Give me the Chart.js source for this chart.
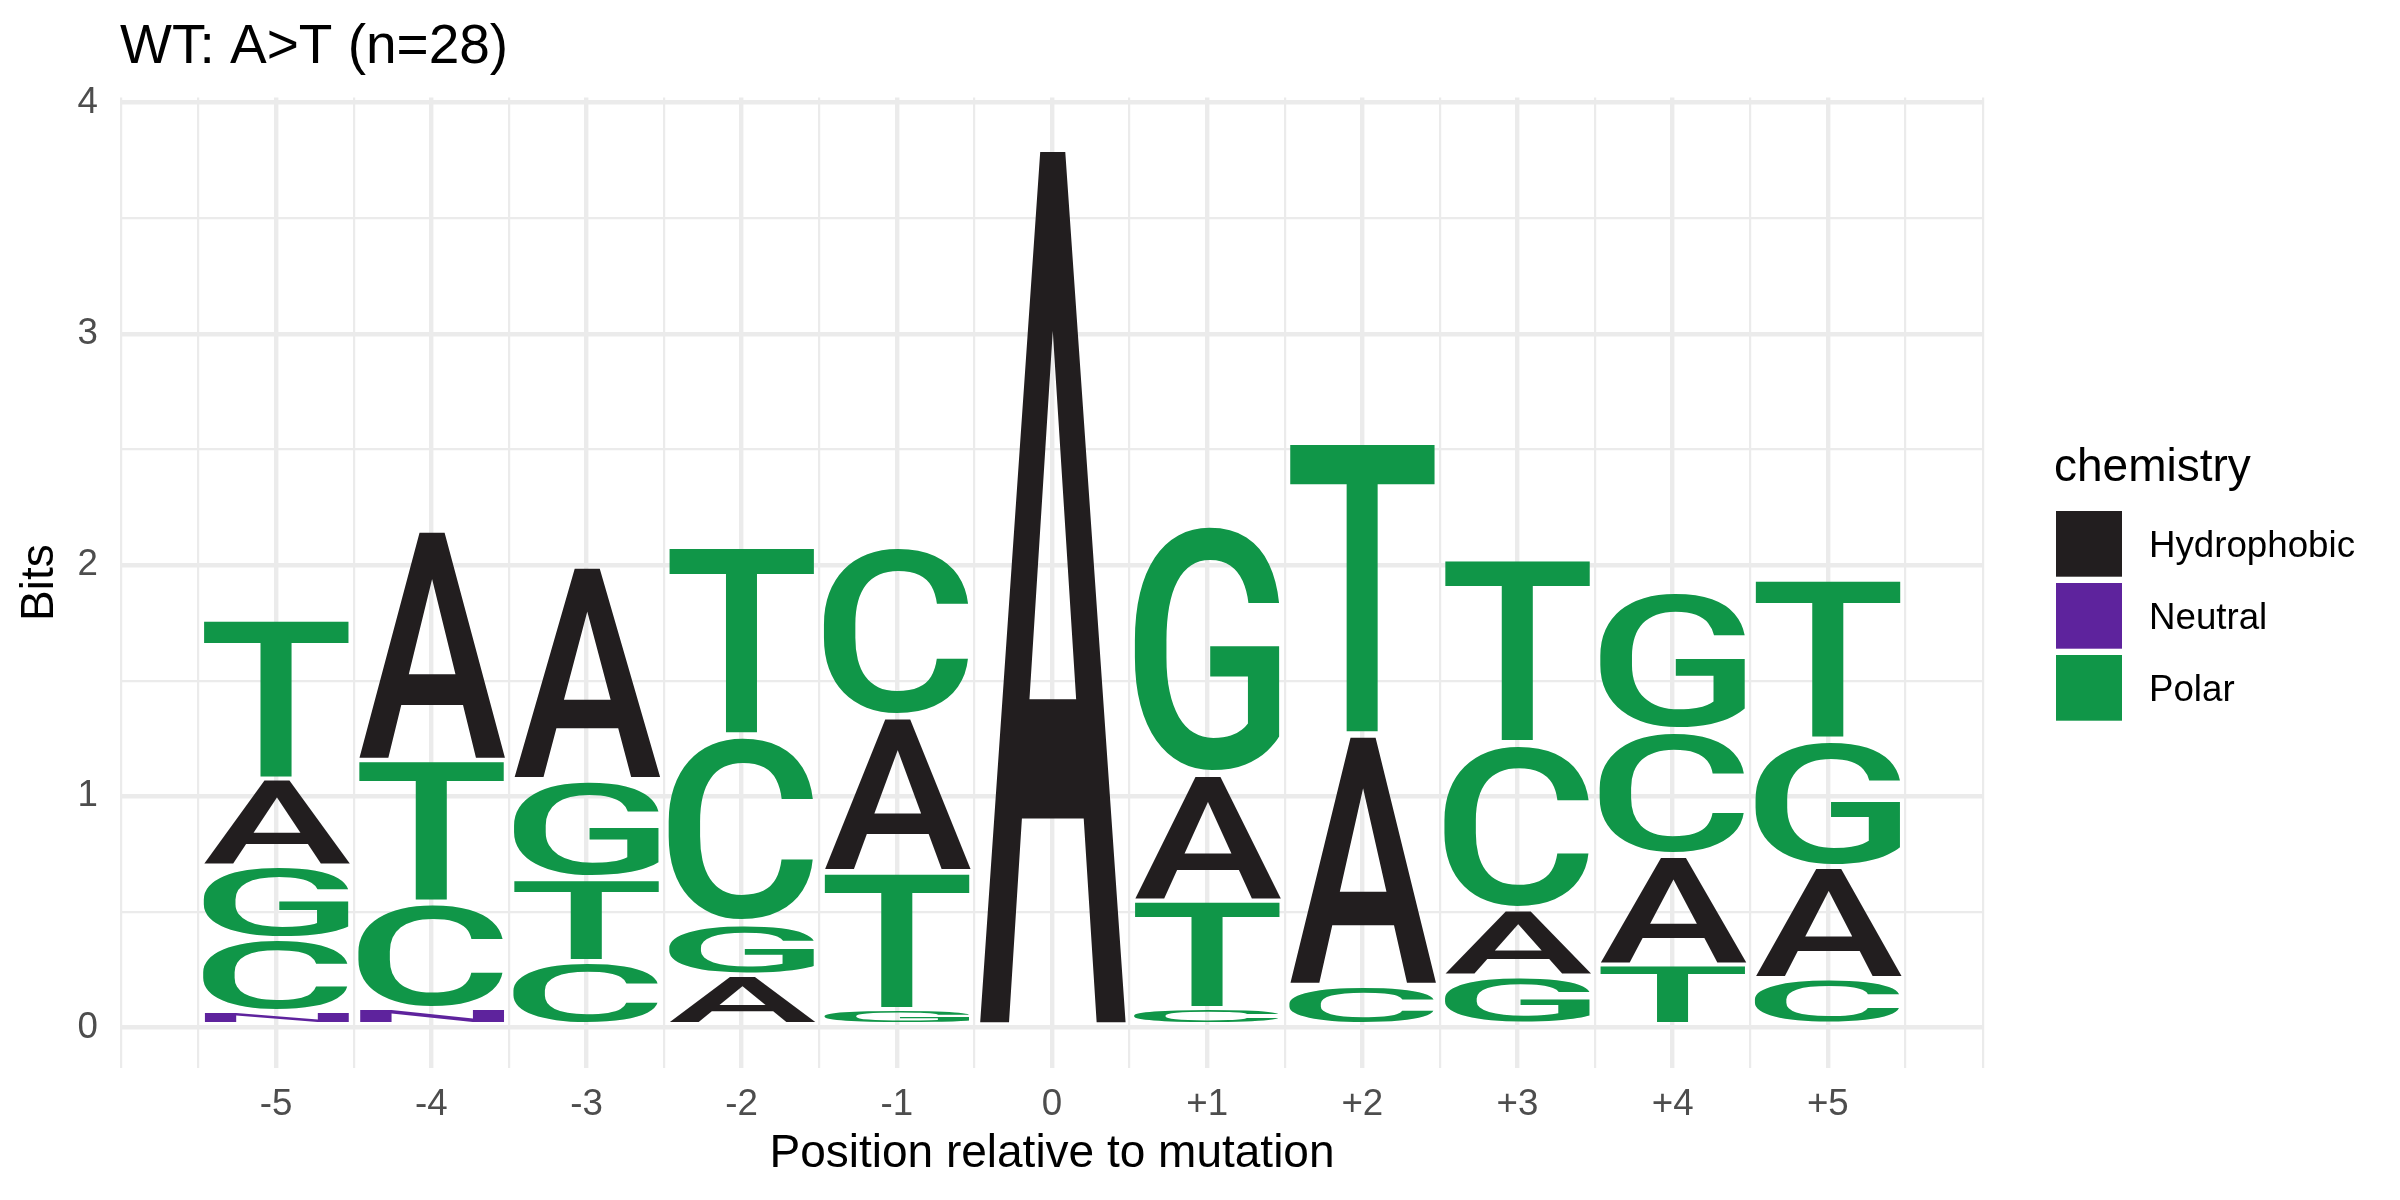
<!DOCTYPE html>
<html>
<head>
<meta charset="utf-8">
<title>WT: A&gt;T (n=28)</title>
<script src="https://cdn.jsdelivr.net/npm/chart.js@4.4.1/dist/chart.umd.min.js"></script>
<style>
    html, body { margin: 0; padding: 0; background: #ffffff; }
    #wrap { width: 2400px; height: 1200px; position: relative; }
</style>
</head>
<body>
<div id="wrap"><canvas id="logo" width="2400" height="1200"></canvas></div>
<script>
/**
 * Sequence logo (bits) drawn on top of a Chart.js floating bar chart.
 * Each bar is one letter box; the plugin stretches the glyph into it.
 */

// Positions relative to the mutation (x tick labels)
const positions = ['-5', '-4', '-3', '-2', '-1', '0', '+1', '+2', '+3', '+4', '+5'];

// Letter heights in bits, one value per position
const letters = ['A', 'C', 'G', 'N', 'T'];
const bitsA = [0.379, 1.000, 0.927, 0.223, 0.671, 3.832, 0.546, 1.087, 0.289, 0.472, 0.485];
const bitsC = [0.316, 0.462, 0.285, 0.818, 0.746, 0, 0.078, 0.181, 0.724, 0.540, 0.208];
const bitsG = [0.316, 0, 0.428, 0.223, 0.075, 0, 1.092, 0, 0.217, 0.607, 0.554];
const bitsN = [0.063, 0.077, 0, 0, 0, 0, 0, 0, 0, 0, 0];
const bitsT = [0.694, 0.615, 0.357, 0.818, 0.596, 0, 0.468, 1.268, 0.796, 0.270, 0.693];

// Colour scheme (chemistry)
const groups = ['Hydrophobic', 'Neutral', 'Polar'];
const groupColors = ['#221E1F', '#5E239D', '#109648'];
const letterGroup = { A: 'Hydrophobic', C: 'Polar', G: 'Polar', N: 'Neutral', T: 'Polar' };

// Axis ticks
const yTicks = [0, 1, 2, 3, 4];
const yRange = [-0.174, 4.022];
const xRange = [0, 12];

const seqLogo = {

    font: '"Liberation Sans", Arial, Helvetica, sans-serif',
    letterFont: '500 400px Roboto, "Liberation Sans", sans-serif',
    colWidth: 0.95,

    init: function() {
        Chart.defaults.font.family = this.font;
        const stacks = this.buildStacks();
        this.chart = new Chart(document.getElementById('logo'), {
            type: 'bar',
            data: { datasets: this.buildDatasets(stacks) },
            options: this.buildOptions(),
            plugins: [this.logoPlugin()]
        });
    },

    // Sort each column smallest at the bottom, then stack it
    buildStacks: function() {
        const bits = { A: bitsA, C: bitsC, G: bitsG, N: bitsN, T: bitsT };
        return positions.map((p, i) => {
            const items = letters
                .filter(l => bits[l][i] > 0)
                .map(l => ({ letter: l, h: bits[l][i] }));
            items.sort((a, b) => a.h - b.h);
            let base = 0;
            return items.map(it => {
                const box = { letter: it.letter, y0: base, y1: base + it.h };
                base += it.h;
                return box;
            });
        });
    },

    // One dataset per stack level (bottom letter, second letter, ...)
    buildDatasets: function(stacks) {
        const depth = Math.max(...stacks.map(s => s.length));
        const datasets = [];
        for (let r = 0; r < depth; r++) {
            const data = [];
            stacks.forEach((stack, i) => {
                if (stack[r]) {
                    data.push({ x: i + 1, y: [stack[r].y0, stack[r].y1], letter: stack[r].letter });
                }
            });
            datasets.push({
                label: 'level ' + (r + 1),
                data: data,
                backgroundColor: 'rgba(0,0,0,0)',
                borderWidth: 0,
                grouped: false
            });
        }
        return datasets;
    },

    buildOptions: function() {
        const gridColor = '#EBEBEB';
        const major = 4.4;
        const minor = 2.2;
        return {
            responsive: false,
            devicePixelRatio: 1,
            animation: false,
            events: [],
            layout: { padding: { left: 0, top: 97.6, right: 417, bottom: 0 } },
            plugins: {
                legend: { display: false },
                title: { display: false },
                tooltip: { enabled: false }
            },
            scales: {
                x: {
                    type: 'linear',
                    min: xRange[0],
                    max: xRange[1],
                    offset: false,
                    afterBuildTicks: (scale) => {
                        const ticks = [];
                        for (let v = xRange[0]; v <= xRange[1]; v += 0.5) ticks.push({ value: v });
                        scale.ticks = ticks;
                    },
                    afterFit: (scale) => { scale.height = 132.3; },
                    grid: {
                        offset: false,
                        drawTicks: false,
                        color: gridColor,
                        lineWidth: (c) => {
                            const v = c.tick ? c.tick.value : 0;
                            return Number.isInteger(v) && v >= 1 && v <= positions.length ? major : minor;
                        }
                    },
                    border: { display: false },
                    ticks: {
                        autoSkip: false,
                        maxRotation: 0,
                        padding: 15,
                        color: '#4D4D4D',
                        font: { size: 36.7 },
                        callback: (v) => (Number.isInteger(v) && v >= 1 && v <= positions.length) ? positions[v - 1] : ''
                    },
                    title: {
                        display: true,
                        text: 'Position relative to mutation',
                        color: '#000000',
                        font: { size: 46, lineHeight: 1.2 },
                        padding: { top: 0, bottom: 18.4 }
                    }
                },
                y: {
                    type: 'linear',
                    min: yRange[0],
                    max: yRange[1],
                    afterBuildTicks: (scale) => {
                        const ticks = [];
                        yTicks.forEach((v, i) => {
                            ticks.push({ value: v });
                            if (i < yTicks.length - 1) ticks.push({ value: (v + yTicks[i + 1]) / 2 });
                        });
                        scale.ticks = ticks;
                    },
                    afterFit: (scale) => { scale.width = 121; },
                    grid: {
                        drawTicks: false,
                        color: gridColor,
                        lineWidth: (c) => (c.tick && yTicks.includes(c.tick.value)) ? major : minor
                    },
                    border: { display: false },
                    ticks: {
                        autoSkip: false,
                        padding: 23,
                        color: '#4D4D4D',
                        font: { size: 36.7 },
                        callback: (v) => yTicks.includes(v) ? String(v) : ''
                    },
                    title: {
                        display: true,
                        text: 'Bits',
                        color: '#000000',
                        font: { size: 46, lineHeight: 1.2 },
                        padding: { top: 13.2, bottom: 0 }
                    }
                }
            }
        };
    },

    // Stretch a glyph so its ink fills the given box
    drawLetter: function(ctx, ch, color, left, top, width, height) {
        if (width <= 0 || height <= 0) return;
        ctx.save();
        ctx.font = this.letterFont;
        ctx.textAlign = 'left';
        ctx.textBaseline = 'alphabetic';
        const m = ctx.measureText(ch);
        const gw = m.actualBoundingBoxLeft + m.actualBoundingBoxRight;
        const gh = m.actualBoundingBoxAscent + m.actualBoundingBoxDescent;
        ctx.translate(left, top);
        ctx.scale(width / gw, height / gh);
        ctx.fillStyle = color;
        ctx.fillText(ch, m.actualBoundingBoxLeft, m.actualBoundingBoxAscent);
        ctx.restore();
    },

    logoPlugin: function() {
        const self = this;
        return {
            id: 'seqLogo',
            afterDatasetsDraw: function(chart) {
                const ctx = chart.ctx;
                const xs = chart.scales.x;
                // letter column width: 0.95 of one position step
                const width = (xs.getPixelForValue(1) - xs.getPixelForValue(0)) * self.colWidth;
                chart.data.datasets.forEach((ds, di) => {
                    const meta = chart.getDatasetMeta(di);
                    meta.data.forEach((bar, j) => {
                        const p = bar.getProps(['x', 'y', 'base'], true);
                        const item = ds.data[j];
                        const color = groupColors[groups.indexOf(letterGroup[item.letter])];
                        // small white gap between stacked letters
                        const top = Math.min(p.y, p.base) + 0.8;
                        const bottom = Math.max(p.y, p.base) - 3;
                        self.drawLetter(ctx, item.letter, color, p.x - width / 2, top, width, bottom - top);
                    });
                });
            },
            afterDraw: function(chart) {
                const ctx = chart.ctx;
                const area = chart.chartArea;
                ctx.save();
                ctx.textAlign = 'left';
                ctx.textBaseline = 'alphabetic';

                // plot title
                ctx.fillStyle = '#000000';
                ctx.font = '55px ' + self.font;
                ctx.fillText('WT: A>T (n=28)', area.left - 1, 63);

                // legend
                const lx = area.right + 72;
                ctx.font = '46px ' + self.font;
                ctx.fillText('chemistry', lx - 1, 480.7);
                ctx.font = '36.7px ' + self.font;
                groups.forEach((g, i) => {
                    const ty = 511 + i * 72;
                    ctx.fillStyle = groupColors[i];
                    ctx.fillRect(lx + 1, ty, 66, 65.7);
                    ctx.fillStyle = '#000000';
                    ctx.fillText(g, lx + 94, ty + 46.3);
                });
                ctx.restore();
            }
        };
    }
};

document.addEventListener('DOMContentLoaded', function() {
    seqLogo.init();
});
</script>
</body>
</html>
